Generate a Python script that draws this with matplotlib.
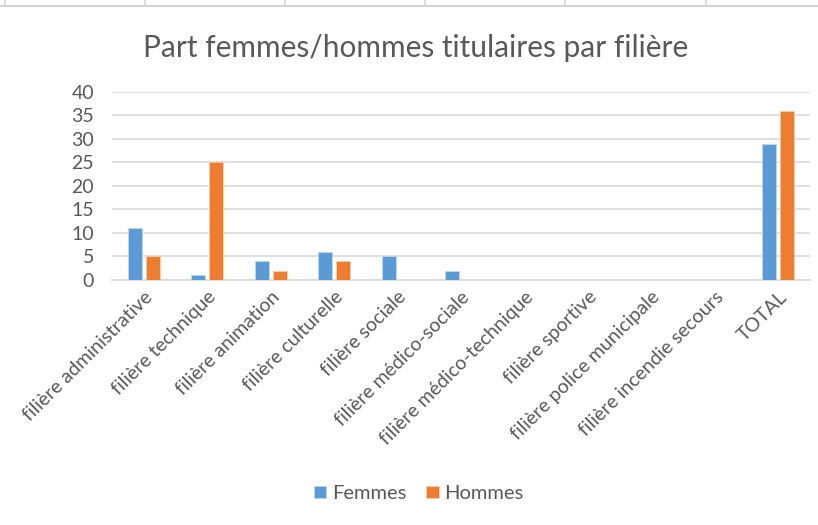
import numpy as np
import matplotlib.pyplot as plt
from matplotlib.lines import Line2D

categories = ["filière administrative", "filière technique", "filière animation",
              "filière culturelle", "filière sociale", "filière médico-sociale",
              "filière médico-technique", "filière sportive", "filière police municipale",
              "filière incendie secours", "TOTAL"]
femmes = [11, 1, 4, 6, 5, 2, 0, 0, 0, 0, 29]
hommes = [5, 25, 2, 4, 0, 0, 0, 0, 0, 0, 36]
yticks = [0, 5, 10, 15, 20, 25, 30, 35, 40]

plt.rcParams['font.family'] = ['Lato', 'DejaVu Sans']
txt = '#595959'

fig = plt.figure(figsize=(8.18, 5.25), dpi=100)
ax = fig.add_axes([0.137, 0.4667, 0.853, 0.3581])

x = np.arange(len(categories))
w = 0.22
ax.bar(x - 0.14, femmes, w, color='#5B9BD5', edgecolor='#BDD7EE', linewidth=0.6, label='Femmes', zorder=3)
ax.bar(x + 0.14, hommes, w, color='#ED7D31', edgecolor='#F8CBAD', linewidth=0.6, label='Hommes', zorder=3)

ax.set_xlim(-0.5, len(categories) - 0.5)
ax.set_ylim(0, 40)
ax.set_yticks(yticks)
ax.set_yticklabels([str(t) for t in yticks], fontsize=14, color=txt)
ax.set_xticks(x)
ax.set_xticklabels(categories, rotation=45, ha='right', rotation_mode='anchor',
                   fontsize=14, color=txt)
ax.tick_params(axis='y', length=0, pad=13)
ax.tick_params(axis='x', length=0, pad=6)
ax.grid(axis='y', color='#D9D9D9', linewidth=1.2, zorder=0)
for s in ['top', 'right', 'left']:
    ax.spines[s].set_visible(False)
ax.spines['bottom'].set_color('#D9D9D9')
ax.spines['bottom'].set_linewidth(1.2)

fig.text(0.508, 0.908, 'Part femmes/hommes titulaires par filière', ha='center', va='center',
         fontsize=21.5, color=txt)

fig.legend(loc='center', bbox_to_anchor=(0.512, 0.06), ncol=2,
           frameon=False, fontsize=14.5, labelcolor=txt, handlelength=0.6, handleheight=0.6,
           handletextpad=0.3, columnspacing=1.0)

# spreadsheet cell borders peeking above the chart
fig.add_artist(Line2D([0, 1], [1 - 6 / 525, 1 - 6 / 525], color='#D4D4D4', linewidth=1.5))
for px in [5, 145, 285, 425, 565, 706]:
    fig.add_artist(Line2D([px / 818, px / 818], [1 - 6 / 525, 1], color='#D4D4D4', linewidth=1.2))

fig.savefig('out.png', dpi=100)
